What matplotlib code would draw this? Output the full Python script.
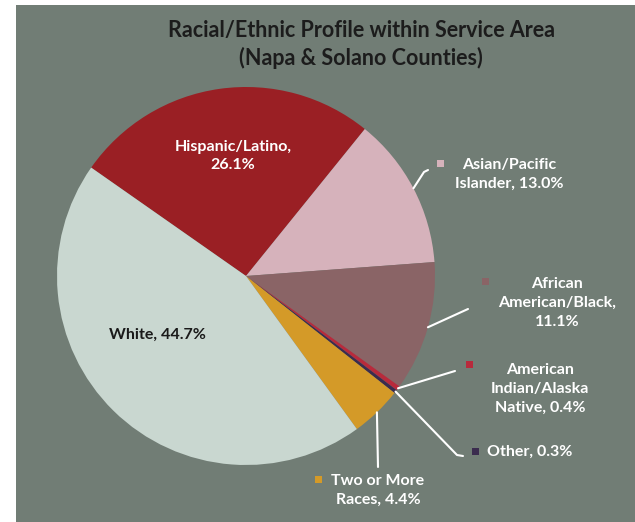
import matplotlib.pyplot as plt
from matplotlib.patches import Rectangle
import numpy as np

groups = ['Hispanic/Latino', 'Asian/Pacific Islander', 'African American/Black',
          'American Indian/Alaska Native', 'Other', 'Two or More Races', 'White']
shares = [26.1, 13.0, 11.1, 0.4, 0.3, 4.4, 44.7]
colors = ['#9a1f24', '#d6b2bb', '#8a6466', '#b82a3c', '#3b2c4e', '#d49a28', '#c9d7d0']

label_text = [
    'Hispanic/Latino,\n26.1%',
    'Asian/Pacific\nIslander, 13.0%',
    'African\nAmerican/Black,\n11.1%',
    'American\nIndian/Alaska\nNative, 0.4%',
    'Other, 0.3%',
    'Two or More\nRaces, 4.4%',
    'White, 44.7%',
]

W, H = 635, 522
plt.rcParams['font.family'] = ['Lato', 'DejaVu Sans']

fig = plt.figure(figsize=(W / 100, H / 100), dpi=100)
fig.patch.set_facecolor('white')

ax = fig.add_axes([0, 0, 1, 1])
ax.patch.set_alpha(0)

def Y(y):
    # pixel row (from top) -> data y
    return H - y

# grey-green panel behind the chart
ax.add_patch(Rectangle((16, 0), W - 16, H - 5, facecolor='#717d75',
                       edgecolor='none', zorder=0))

cx, cy, r = 246, Y(276), 189
wedges, _ = ax.pie(shares, colors=colors, startangle=145, counterclock=False,
                   center=(cx, cy), radius=r,
                   wedgeprops=dict(linewidth=0, antialiased=True, zorder=2))

ax.set_xlim(0, W)
ax.set_ylim(0, H)
ax.set_aspect('equal')
ax.axis('off')

ax.text(361, Y(30), 'Racial/Ethnic Profile within Service Area',
        ha='center', va='center', fontsize=15.5, fontweight='bold', color='#1c1c1c')
ax.text(361, Y(58), '(Napa & Solano Counties)',
        ha='center', va='center', fontsize=15.5, fontweight='bold', color='#1c1c1c')

fs = 11.5
ls = 1.42
# labels inside the slices
ax.text(233, Y(156), label_text[0], ha='center', va='center', fontsize=fs,
        fontweight='bold', color='white', linespacing=ls, zorder=6)
ax.text(157, Y(335), label_text[6], ha='center', va='center', fontsize=fs,
        fontweight='bold', color='#1a1a1a', zorder=6)

def edge_point(w):
    mid = np.deg2rad((w.theta1 + w.theta2) / 2)
    return cx + r * np.cos(mid), cy + r * np.sin(mid)

# outside labels: leader path (pixel coords), key marker, text anchor
outside = {
    1: dict(path=[(424, 172), (428, 170)], key=(440, 163), text=(509, 174), ha='center'),
    2: dict(path=[(468, 309)], key=(485, 281), text=(557, 303), ha='center'),
    3: dict(path=[(455, 371)], key=(469, 364), text=(540, 389), ha='center'),
    4: dict(path=[(457, 455), (463, 456)], key=(475, 451), text=(487, 452), ha='left'),
    5: dict(path=[(378, 467)], key=(318, 479), text=(378, 490), ha='center'),
}

for i, o in outside.items():
    x0, y0 = edge_point(wedges[i])
    xs = [x0] + [p[0] for p in o['path']]
    ys = [y0] + [Y(p[1]) for p in o['path']]
    ax.plot(xs, ys, color='white', lw=1.5, solid_capstyle='round', zorder=5)
    kx, ky = o['key']
    ax.add_patch(Rectangle((kx - 3.5, Y(ky) - 3.5), 7, 7, facecolor=colors[i],
                           edgecolor='none', zorder=6))
    tx, ty = o['text']
    ax.text(tx, Y(ty), label_text[i], ha=o['ha'], va='center', fontsize=fs,
            fontweight='bold', color='white', linespacing=ls, zorder=6)

fig.savefig('out.png', dpi=100, facecolor=fig.get_facecolor())
